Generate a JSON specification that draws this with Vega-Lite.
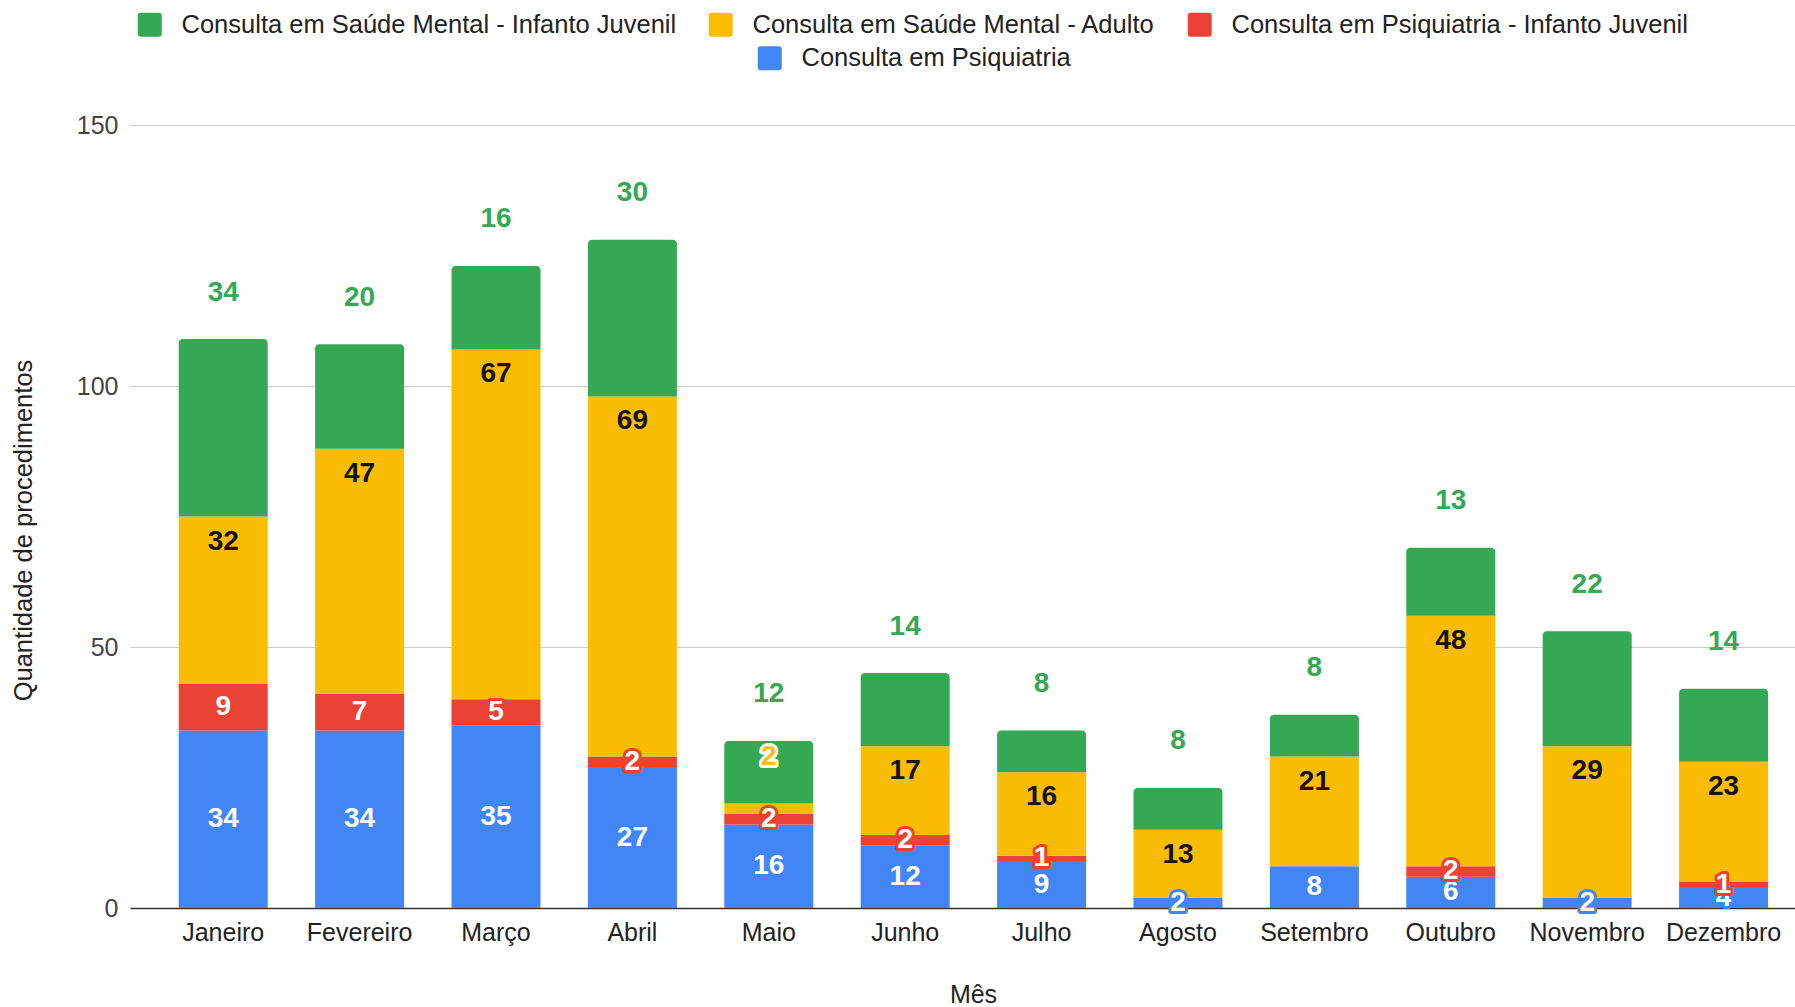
{
  "$schema": "https://vega.github.io/schema/vega-lite/v6.json",
  "width": 1665,
  "height": 783,
  "autosize": {"type": "none"},
  "padding": {"left": 130, "top": 125, "right": 0, "bottom": 99},
  "background": "white",
  "config": {
    "font": "Liberation Sans",
    "view": {"stroke": null},
    "legend": {
      "orient": "none",
      "direction": "horizontal",
      "title": null,
      "padding": 0,
      "labelFontSize": 25.5,
      "labelColor": "#222222",
      "labelFont": "Liberation Sans",
      "labelOffset": 19,
      "labelLimit": 0,
      "columnPadding": 31,
      "symbolSize": 576,
      "symbolStrokeWidth": 0,
      "symbolType": "M -0.75,-1 L 0.75,-1 Q 1,-1 1,-0.75 L 1,0.75 Q 1,1 0.75,1 L -0.75,1 Q -1,1 -1,0.75 L -1,-0.75 Q -1,-1 -0.75,-1 Z"
    }
  },
  "data": {
    "values": [
      {"mes": "Janeiro", "serie": "Consulta em Psiquiatria", "valor": 34},
      {"mes": "Janeiro", "serie": "Consulta em Psiquiatria - Infanto Juvenil", "valor": 9},
      {"mes": "Janeiro", "serie": "Consulta em Saúde Mental - Adulto", "valor": 32},
      {"mes": "Janeiro", "serie": "Consulta em Saúde Mental - Infanto Juvenil", "valor": 34},
      {"mes": "Fevereiro", "serie": "Consulta em Psiquiatria", "valor": 34},
      {"mes": "Fevereiro", "serie": "Consulta em Psiquiatria - Infanto Juvenil", "valor": 7},
      {"mes": "Fevereiro", "serie": "Consulta em Saúde Mental - Adulto", "valor": 47},
      {"mes": "Fevereiro", "serie": "Consulta em Saúde Mental - Infanto Juvenil", "valor": 20},
      {"mes": "Março", "serie": "Consulta em Psiquiatria", "valor": 35},
      {"mes": "Março", "serie": "Consulta em Psiquiatria - Infanto Juvenil", "valor": 5},
      {"mes": "Março", "serie": "Consulta em Saúde Mental - Adulto", "valor": 67},
      {"mes": "Março", "serie": "Consulta em Saúde Mental - Infanto Juvenil", "valor": 16},
      {"mes": "Abril", "serie": "Consulta em Psiquiatria", "valor": 27},
      {"mes": "Abril", "serie": "Consulta em Psiquiatria - Infanto Juvenil", "valor": 2},
      {"mes": "Abril", "serie": "Consulta em Saúde Mental - Adulto", "valor": 69},
      {"mes": "Abril", "serie": "Consulta em Saúde Mental - Infanto Juvenil", "valor": 30},
      {"mes": "Maio", "serie": "Consulta em Psiquiatria", "valor": 16},
      {"mes": "Maio", "serie": "Consulta em Psiquiatria - Infanto Juvenil", "valor": 2},
      {"mes": "Maio", "serie": "Consulta em Saúde Mental - Adulto", "valor": 2},
      {"mes": "Maio", "serie": "Consulta em Saúde Mental - Infanto Juvenil", "valor": 12},
      {"mes": "Junho", "serie": "Consulta em Psiquiatria", "valor": 12},
      {"mes": "Junho", "serie": "Consulta em Psiquiatria - Infanto Juvenil", "valor": 2},
      {"mes": "Junho", "serie": "Consulta em Saúde Mental - Adulto", "valor": 17},
      {"mes": "Junho", "serie": "Consulta em Saúde Mental - Infanto Juvenil", "valor": 14},
      {"mes": "Julho", "serie": "Consulta em Psiquiatria", "valor": 9},
      {"mes": "Julho", "serie": "Consulta em Psiquiatria - Infanto Juvenil", "valor": 1},
      {"mes": "Julho", "serie": "Consulta em Saúde Mental - Adulto", "valor": 16},
      {"mes": "Julho", "serie": "Consulta em Saúde Mental - Infanto Juvenil", "valor": 8},
      {"mes": "Agosto", "serie": "Consulta em Psiquiatria", "valor": 2},
      {"mes": "Agosto", "serie": "Consulta em Psiquiatria - Infanto Juvenil", "valor": 0},
      {"mes": "Agosto", "serie": "Consulta em Saúde Mental - Adulto", "valor": 13},
      {"mes": "Agosto", "serie": "Consulta em Saúde Mental - Infanto Juvenil", "valor": 8},
      {"mes": "Setembro", "serie": "Consulta em Psiquiatria", "valor": 8},
      {"mes": "Setembro", "serie": "Consulta em Psiquiatria - Infanto Juvenil", "valor": 0},
      {"mes": "Setembro", "serie": "Consulta em Saúde Mental - Adulto", "valor": 21},
      {"mes": "Setembro", "serie": "Consulta em Saúde Mental - Infanto Juvenil", "valor": 8},
      {"mes": "Outubro", "serie": "Consulta em Psiquiatria", "valor": 6},
      {"mes": "Outubro", "serie": "Consulta em Psiquiatria - Infanto Juvenil", "valor": 2},
      {"mes": "Outubro", "serie": "Consulta em Saúde Mental - Adulto", "valor": 48},
      {"mes": "Outubro", "serie": "Consulta em Saúde Mental - Infanto Juvenil", "valor": 13},
      {"mes": "Novembro", "serie": "Consulta em Psiquiatria", "valor": 2},
      {"mes": "Novembro", "serie": "Consulta em Psiquiatria - Infanto Juvenil", "valor": 0},
      {"mes": "Novembro", "serie": "Consulta em Saúde Mental - Adulto", "valor": 29},
      {"mes": "Novembro", "serie": "Consulta em Saúde Mental - Infanto Juvenil", "valor": 22},
      {"mes": "Dezembro", "serie": "Consulta em Psiquiatria", "valor": 4},
      {"mes": "Dezembro", "serie": "Consulta em Psiquiatria - Infanto Juvenil", "valor": 1},
      {"mes": "Dezembro", "serie": "Consulta em Saúde Mental - Adulto", "valor": 23},
      {"mes": "Dezembro", "serie": "Consulta em Saúde Mental - Infanto Juvenil", "valor": 14}
    ]
  },
  "transform": [
    {"stack": "valor", "groupby": ["mes"], "sort": [{"field": "serie", "order": "ascending"}], "as": ["y0", "y1"]},
    {"calculate": "(datum.y0 + datum.y1) / 2", "as": "ymid"}
  ],
  "encoding": {
    "x": {
      "field": "mes",
      "type": "nominal",
      "sort": ["Janeiro", "Fevereiro", "Março", "Abril", "Maio", "Junho", "Julho", "Agosto", "Setembro", "Outubro", "Novembro", "Dezembro"],
      "scale": {"paddingInner": 0.3475, "paddingOuter": 0.2773, "align": 0.644},
      "axis": {
        "title": "Mês",
        "titleFontSize": 25,
        "titleFontWeight": "normal",
        "titleColor": "#222222",
        "titlePadding": 37,
        "titleX": 843,
        "labelFontSize": 25,
        "labelColor": "#222222",
        "labelAngle": 0,
        "labelPadding": 12,
        "ticks": false,
        "domain": true,
        "domainColor": "#333333",
        "domainWidth": 1.5,
        "grid": false
      }
    }
  },
  "layer": [
    {
      "transform": [{"filter": "datum.serie === 'Consulta em Psiquiatria'"}],
      "mark": {"type": "bar"},
      "encoding": {
        "y": {
          "field": "y0",
          "type": "quantitative",
          "scale": {"domain": [0, 150], "nice": false},
          "axis": {
            "title": "Quantidade de procedimentos",
            "titleFontSize": 25.5,
            "titleFontWeight": "normal",
            "titleColor": "#222222",
            "titlePadding": 39.5,
            "titleY": 405,
            "values": [0, 50, 100, 150],
            "labelFontSize": 25,
            "labelColor": "#444444",
            "labelPadding": 12,
            "ticks": false,
            "domain": false,
            "grid": true,
            "gridColor": "#cccccc",
            "gridWidth": 1
          }
        },
        "y2": {"field": "y1"},
        "fill": {
          "field": "serie",
          "type": "nominal",
          "scale": {"domain": ["Consulta em Psiquiatria"], "range": ["#4285F4"]},
          "legend": {"orient": "none", "legendX": 627, "legendY": -79.5}
        }
      }
    },
    {
      "transform": [{"filter": "datum.serie !== 'Consulta em Psiquiatria' && datum.serie !== 'Consulta em Saúde Mental - Infanto Juvenil'"}],
      "mark": {"type": "bar"},
      "encoding": {
        "y": {"field": "y0", "type": "quantitative"},
        "y2": {"field": "y1"},
        "color": {
          "field": "serie",
          "type": "nominal",
          "scale": {
            "domain": ["Consulta em Saúde Mental - Infanto Juvenil", "Consulta em Saúde Mental - Adulto", "Consulta em Psiquiatria - Infanto Juvenil"],
            "range": ["#34A853", "#FBBC04", "#EA4335"]
          },
          "legend": {"orient": "none", "legendX": 7, "legendY": -113.5}
        }
      }
    },
    {
      "transform": [{"filter": "datum.serie === 'Consulta em Saúde Mental - Infanto Juvenil'"}],
      "mark": {"type": "bar", "cornerRadiusTopLeft": 4, "cornerRadiusTopRight": 4},
      "encoding": {
        "y": {"field": "y0", "type": "quantitative"},
        "y2": {"field": "y1"},
        "color": {
          "field": "serie",
          "type": "nominal",
          "scale": {
            "domain": ["Consulta em Saúde Mental - Infanto Juvenil", "Consulta em Saúde Mental - Adulto", "Consulta em Psiquiatria - Infanto Juvenil"],
            "range": ["#34A853", "#FBBC04", "#EA4335"]
          },
          "legend": {"orient": "none", "legendX": 7, "legendY": -113.5}
        }
      }
    },
    {
      "transform": [{"filter": "datum.serie === 'Consulta em Psiquiatria' && datum.valor > 0"}],
      "mark": {"type": "text", "fontSize": 28, "fontWeight": "bold", "baseline": "middle", "fill": "white", "stroke": "#4285F4", "strokeWidth": 6, "strokeJoin": "round"},
      "encoding": {"y": {"field": "ymid", "type": "quantitative"}, "text": {"field": "valor", "type": "quantitative"}}
    },
    {
      "transform": [{"filter": "datum.serie === 'Consulta em Psiquiatria' && datum.valor > 0"}],
      "mark": {"type": "text", "fontSize": 28, "fontWeight": "bold", "baseline": "middle", "fill": "white"},
      "encoding": {"y": {"field": "ymid", "type": "quantitative"}, "text": {"field": "valor", "type": "quantitative"}}
    },
    {
      "transform": [{"filter": "datum.serie === 'Consulta em Psiquiatria - Infanto Juvenil' && datum.valor > 0"}],
      "mark": {"type": "text", "fontSize": 28, "fontWeight": "bold", "baseline": "middle", "fill": "white", "stroke": "#EA4335", "strokeWidth": 6, "strokeJoin": "round"},
      "encoding": {"y": {"field": "ymid", "type": "quantitative"}, "text": {"field": "valor", "type": "quantitative"}}
    },
    {
      "transform": [{"filter": "datum.serie === 'Consulta em Psiquiatria - Infanto Juvenil' && datum.valor > 0"}],
      "mark": {"type": "text", "fontSize": 28, "fontWeight": "bold", "baseline": "middle", "fill": "white"},
      "encoding": {"y": {"field": "ymid", "type": "quantitative"}, "text": {"field": "valor", "type": "quantitative"}}
    },
    {
      "transform": [{"filter": "datum.serie === 'Consulta em Saúde Mental - Adulto' && datum.valor >= 3"}],
      "mark": {"type": "text", "fontSize": 28, "fontWeight": "bold", "baseline": "middle", "dy": 25, "fill": "#111111"},
      "encoding": {"y": {"field": "y1", "type": "quantitative"}, "text": {"field": "valor", "type": "quantitative"}}
    },
    {
      "transform": [{"filter": "datum.serie === 'Consulta em Saúde Mental - Adulto' && datum.valor > 0 && datum.valor < 3"}],
      "mark": {"type": "text", "fontSize": 28, "fontWeight": "bold", "baseline": "middle", "dy": -47, "fill": "#FBBC04", "stroke": "white", "strokeWidth": 6, "strokeJoin": "round"},
      "encoding": {"y": {"field": "y1", "type": "quantitative"}, "text": {"field": "valor", "type": "quantitative"}}
    },
    {
      "transform": [{"filter": "datum.serie === 'Consulta em Saúde Mental - Adulto' && datum.valor > 0 && datum.valor < 3"}],
      "mark": {"type": "text", "fontSize": 28, "fontWeight": "bold", "baseline": "middle", "dy": -47, "fill": "#FBBC04"},
      "encoding": {"y": {"field": "y1", "type": "quantitative"}, "text": {"field": "valor", "type": "quantitative"}}
    },
    {
      "transform": [{"filter": "datum.serie === 'Consulta em Saúde Mental - Infanto Juvenil' && datum.valor > 0"}],
      "mark": {"type": "text", "fontSize": 28, "fontWeight": "bold", "baseline": "middle", "dy": -46.5, "fill": "#34A853"},
      "encoding": {"y": {"field": "y1", "type": "quantitative"}, "text": {"field": "valor", "type": "quantitative"}}
    }
  ]
}
